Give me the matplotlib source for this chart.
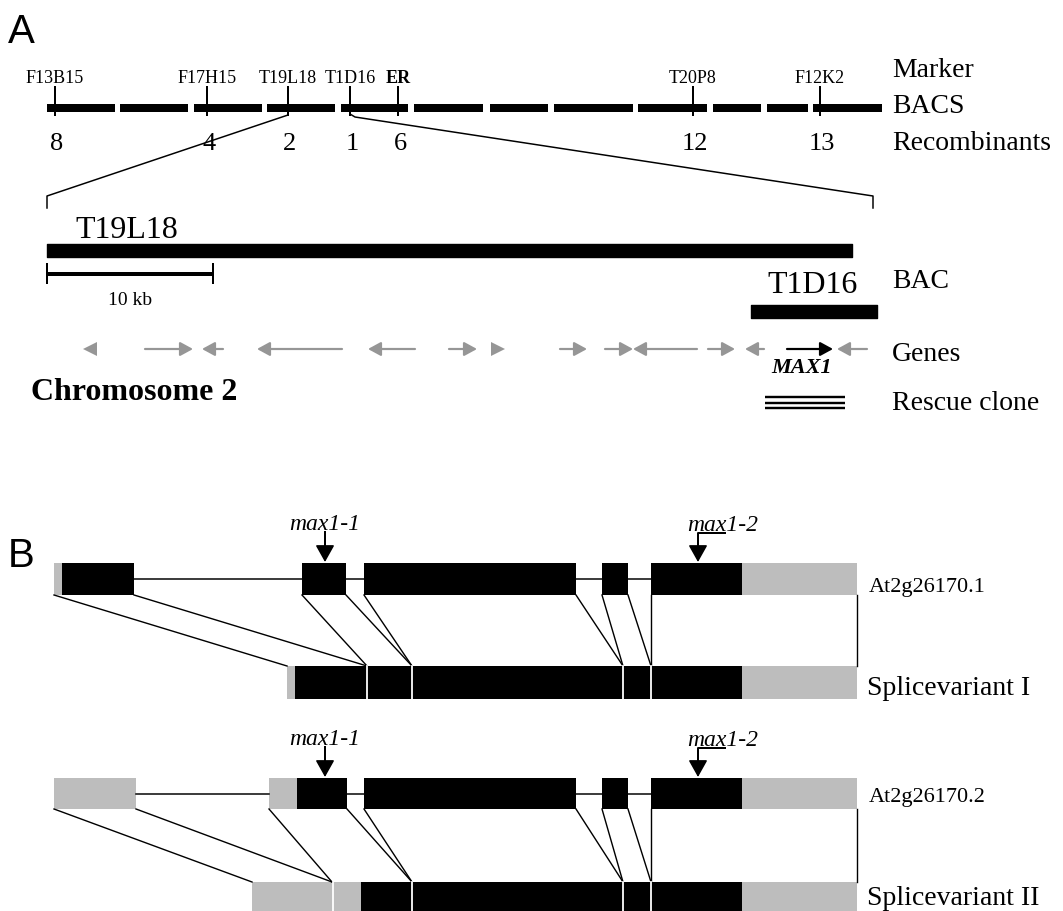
import matplotlib.pyplot as plt

SERIF = "Liberation Serif"
GREY_GENE = "#969696"
GREY_UTR = "#bdbdbd"

# ---- panel A: BAC contig on chromosome 2 ----
bac_segments = [(47, 115), (120, 188), (194, 262), (267, 335), (341, 408), (414, 483),
                (490, 548), (554, 633), (638, 707), (713, 761), (767, 808), (813, 882)]
marker_names = ["F13B15", "F17H15", "T19L18", "T1D16", "ER", "T20P8", "F12K2"]
marker_pos = [55, 207, 288, 350, 398, 693, 820]
recombinants = ["8", "4", "2", "1", "6", "12", "13"]

# zoomed BAC region
t19l18_span = (47, 852)
t1d16_span = (751, 877)
scale_bar = (47, 213)

# genes: (start, end, strand)
genes = [(83, 97, "-"), (145, 193, "+"), (202, 223, "-"), (257, 342, "-"),
         (368, 415, "-"), (449, 477, "+"), (491, 505, "+"), (560, 587, "+"),
         (605, 633, "+"), (633, 697, "-"), (708, 735, "+"), (745, 764, "-"),
         (787, 833, "+"), (837, 867, "-")]
max1_gene = 12
rescue_clone = (765, 845)

# ---- panel B: transcripts ----
# each block: (start, end, coding?)
at1_blocks = [(54, 62, 0), (62, 134, 1), (302, 346, 1), (364, 576, 1),
              (602, 628, 1), (651, 742, 1), (742, 857, 0)]
sv1_blocks = [(287, 295, 0), (295, 367, 1), (367, 412, 1), (412, 623, 1),
              (623, 651, 1), (651, 742, 1), (742, 857, 0)]
sv1_joints = [367, 412, 623, 651]
at2_blocks = [(54, 136, 0), (269, 297, 0), (297, 347, 1), (364, 576, 1),
              (602, 628, 1), (651, 742, 1), (742, 857, 0)]
sv2_blocks = [(252, 333, 0), (333, 361, 0), (361, 412, 1), (412, 623, 1),
              (623, 651, 1), (651, 742, 1), (742, 857, 0)]
sv2_joints = [333, 412, 623, 651]

map1 = [(54, 287), (134, 367), (302, 367), (346, 412), (364, 412),
        (576, 623), (602, 623), (628, 651), (651, 651), (857, 857)]
map2 = [(54, 252), (136, 332), (269, 332), (347, 412), (364, 412),
        (576, 623), (602, 623), (628, 651), (651, 651), (857, 857)]

max1_1_pos = 325
max1_2_pos = 698

fig = plt.figure(figsize=(10.63, 9.11), dpi=100)
ax = fig.add_axes([0, 0, 1, 1])
ax.set_xlim(0, 1063)
ax.set_ylim(911, 0)
ax.axis("off")

PX = 0.72  # points per pixel

def txt(x, y, s, size, **kw):
    kw.setdefault("family", SERIF)
    ax.text(x, y, s, fontsize=size, va="baseline", **kw)

# panel letters
txt(21, 43, "A", 29, ha="center", family="Liberation Sans")
txt(21, 567, "B", 29, ha="center", family="Liberation Sans")

# BACS line
for a, b in bac_segments:
    ax.plot([a, b], [107.5, 107.5], color="black", lw=8 * PX, solid_capstyle="butt")
for name, x, r in zip(marker_names, marker_pos, recombinants):
    ax.plot([x, x], [87, 115], color="black", lw=2 * PX)
    bold = "bold" if name == "ER" else "normal"
    txt(x, 83, name, 13, ha="center", fontweight=bold)
    txt(x + 2, 150, r, 19, ha="center")

for s, y in [("Marker", 77), ("BACS", 113), ("Recombinants", 150), ("BAC", 288),
             ("Genes", 361), ("Rescue clone", 410)]:
    txt(892, y, s, 20)

# zoom lines
ax.plot([288, 47, 47], [115, 196, 208], color="black", lw=1.5 * PX)
ax.plot([350, 355, 873, 873], [114, 117, 196, 208], color="black", lw=1.5 * PX)

# BAC bars
ax.broken_barh([(t19l18_span[0], t19l18_span[1] - t19l18_span[0])], (244, 13), color="black")
txt(75, 238, "T19L18", 23)
ax.broken_barh([(t1d16_span[0], t1d16_span[1] - t1d16_span[0])], (305, 13), color="black")
txt(813, 293, "T1D16", 23, ha="center")

# scale bar
ax.plot(scale_bar, [274, 274], color="black", lw=4 * PX, solid_capstyle="butt")
for x in scale_bar:
    ax.plot([x, x], [264, 283], color="black", lw=2 * PX)
txt(sum(scale_bar) / 2, 305, "10 kb", 14, ha="center")

# genes
gy = 349
for i, (a, b, strand) in enumerate(genes):
    col = "black" if i == max1_gene else GREY_GENE
    if b - a < 16:
        ax.plot([(a + b) / 2], [gy], marker="<" if strand == "-" else ">",
                color=col, ms=10, mew=0)
        continue
    tail, head = (a, b) if strand == "+" else (b, a)
    ax.annotate("", xy=(head, gy), xytext=(tail, gy),
                arrowprops=dict(arrowstyle="-|>,head_length=0.55,head_width=0.3",
                                color=col, lw=2.2 * PX, shrinkA=0, shrinkB=0,
                                mutation_scale=14))
txt(sum(genes[max1_gene][:2]) / 2 - 8, 373, "MAX1", 16, ha="center",
    fontweight="bold", style="italic")

# rescue clone
for y in (397, 402.5, 408):
    ax.plot(rescue_clone, [y, y], color="black", lw=2.4 * PX, solid_capstyle="butt")

txt(31, 400, "Chromosome 2", 23, fontweight="bold")

# ---- panel B drawing ----
def draw_row(blocks, top, h, joints=None, introns=True):
    for a, b, coding in blocks:
        ax.broken_barh([(a, b - a)], (top, h), color="black" if coding else GREY_UTR,
                       lw=0)
    if introns:
        for (a1, b1, _), (a2, b2, _) in zip(blocks[:-1], blocks[1:]):
            if a2 > b1:
                ax.plot([b1, a2], [top + h / 2] * 2, color="black", lw=1.5 * PX)
    for j in joints or []:
        ax.plot([j, j], [top, top + h], color="white", lw=1.8 * PX)

def connect(pairs, y0, y1):
    for a, b in pairs:
        ax.plot([a, b], [y0, y1], color="black", lw=1.4 * PX)

def mutation(x, top, label, elbow=False):
    if elbow:
        txt(x + 25, top - 32, label, 17, ha="center", style="italic")
        ax.plot([x + 27, x, x], [top - 30, top - 30, top - 12], color="black",
                lw=2 * PX)
    else:
        txt(x, top - 33, label, 17, ha="center", style="italic")
        ax.plot([x, x], [top - 31, top - 12], color="black", lw=2 * PX)
    ax.annotate("", xy=(x, top - 1), xytext=(x, top - 14),
                arrowprops=dict(arrowstyle="-|>,head_length=0.75,head_width=0.42",
                                color="black", lw=1.5 * PX, shrinkA=0, shrinkB=0,
                                mutation_scale=14))

r1, r2, r3, r4 = 563, 666, 778, 882
connect(map1, r1 + 32, r2)
connect(map2, r3 + 31, r4)
draw_row(at1_blocks, r1, 32)
draw_row(sv1_blocks, r2, 33, sv1_joints, introns=False)
draw_row(at2_blocks, r3, 31)
draw_row(sv2_blocks, r4, 33, sv2_joints, introns=False)

for top in (r1, r3):
    mutation(max1_1_pos, top, "max1-1")
    mutation(max1_2_pos, top, "max1-2", elbow=True)

txt(869, 592, "At2g26170.1", 16)
txt(867, 695, "Splicevariant I", 20)
txt(869, 802, "At2g26170.2", 16)
txt(867, 905, "Splicevariant II", 20)

fig.savefig("out.png", dpi=100)
